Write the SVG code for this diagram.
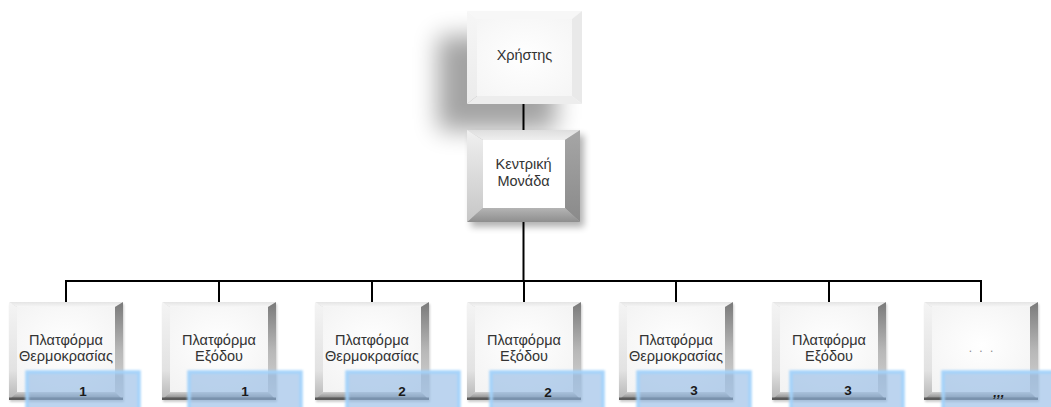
<svg xmlns="http://www.w3.org/2000/svg" xmlns:xlink="http://www.w3.org/1999/xlink" width="1051" height="407" viewBox="0 0 1051 407">
  <style>
    .lbl { font-family: "Liberation Sans", "DejaVu Sans", sans-serif; font-size: 14.5px; fill: #333333; text-anchor: middle; }
    .num { font-family: "Liberation Sans", "DejaVu Sans", sans-serif; font-size: 13.5px; font-weight: bold; fill: #1a1a1a; text-anchor: middle; }
    .dots { font-family: "Liberation Sans", "DejaVu Sans", sans-serif; font-size: 12px; fill: #8a8a8a; text-anchor: middle; letter-spacing: 2px; }
    .conn { stroke: #000000; stroke-width: 2; fill: none; }
    .blue { fill: #8fb8e4; fill-opacity: 0.6; stroke: #a2d2fb; stroke-width: 3.5; stroke-opacity: 0.95; }
  </style>
  <defs>
    <filter id="blurBig" x="-60%" y="-60%" width="220%" height="220%">
      <feGaussianBlur stdDeviation="12"/>
    </filter>
    <filter id="blurMid" x="-30%" y="-30%" width="160%" height="160%">
      <feGaussianBlur stdDeviation="3.5"/>
    </filter>
    <filter id="blurSmall" x="-20%" y="-20%" width="140%" height="140%">
      <feGaussianBlur stdDeviation="1.2"/>
    </filter>
    <linearGradient id="sTop" x1="0" y1="0" x2="0" y2="1">
      <stop offset="0" stop-color="#e4e4e4"/>
      <stop offset="1" stop-color="#f7f7f7"/>
    </linearGradient>
    <linearGradient id="sLeft" x1="0" y1="0" x2="0" y2="1">
      <stop offset="0" stop-color="#f4f4f4"/>
      <stop offset="0.7" stop-color="#e2e2e2"/>
      <stop offset="1" stop-color="#b5b5b5"/>
    </linearGradient>
    <linearGradient id="sRight" x1="0" y1="0" x2="0" y2="1">
      <stop offset="0" stop-color="#7a7a7a"/>
      <stop offset="0.5" stop-color="#b8b8b8"/>
      <stop offset="1" stop-color="#d8d8d8"/>
    </linearGradient>
    <linearGradient id="sBottom" x1="0" y1="0" x2="0" y2="1">
      <stop offset="0" stop-color="#d0d0d0"/>
      <stop offset="0.6" stop-color="#9a9a9a"/>
      <stop offset="1" stop-color="#555555"/>
    </linearGradient>
    <radialGradient id="face" cx="0.5" cy="0.45" r="0.7">
      <stop offset="0" stop-color="#ffffff"/>
      <stop offset="1" stop-color="#f3f3f3"/>
    </radialGradient>
    <linearGradient id="mTop" x1="0" y1="0" x2="0" y2="1">
      <stop offset="0" stop-color="#dedede"/>
      <stop offset="1" stop-color="#efefef"/>
    </linearGradient>
    <linearGradient id="mLeft" x1="0" y1="0" x2="0" y2="1">
      <stop offset="0" stop-color="#f0f0f0"/>
      <stop offset="1" stop-color="#c6c6c6"/>
    </linearGradient>
    <linearGradient id="mRight" x1="0" y1="0" x2="0" y2="1">
      <stop offset="0" stop-color="#a6a6a6"/>
      <stop offset="1" stop-color="#8a8a8a"/>
    </linearGradient>
    <linearGradient id="mBottom" x1="0" y1="0" x2="0" y2="1">
      <stop offset="0" stop-color="#b4b4b4"/>
      <stop offset="1" stop-color="#8e8e8e"/>
    </linearGradient>
    <linearGradient id="tSide" x1="0" y1="0" x2="0" y2="1">
      <stop offset="0" stop-color="#f6f6f6"/>
      <stop offset="1" stop-color="#ebebeb"/>
    </linearGradient>
    <radialGradient id="tFace" cx="0.5" cy="0.5" r="0.7">
      <stop offset="0" stop-color="#ffffff"/>
      <stop offset="1" stop-color="#f5f5f5"/>
    </radialGradient>

    <symbol id="smallBox" overflow="visible">
      <rect x="1" y="2" width="114" height="98" fill="#000" opacity="0.2" filter="url(#blurSmall)"/>
      <polygon points="0,0 114,0 106,5 8,5" fill="url(#sTop)"/>
      <polygon points="0,0 8,5 8,90 0,98" fill="url(#sLeft)"/>
      <polygon points="114,0 114,98 106,90 106,5" fill="url(#sRight)"/>
      <polygon points="0,98 8,90 106,90 114,98" fill="url(#sBottom)"/>
      <rect x="8" y="5" width="98" height="85" fill="url(#face)"/>
      <rect x="0" y="95.5" width="114" height="2.5" fill="#5a5a5a"/>
    </symbol>
  </defs>

  <rect x="0" y="0" width="1051" height="407" fill="#ffffff"/>

  <g id="connectors">
    <line class="conn" x1="523.5" y1="104" x2="523.5" y2="130"/>
    <line class="conn" x1="523.5" y1="222" x2="523.5" y2="281"/>
    <line class="conn" x1="65" y1="281" x2="982" y2="281"/>
    <line class="conn" x1="66" y1="280" x2="66" y2="303"/>
    <line class="conn" x1="219" y1="280" x2="219" y2="303"/>
    <line class="conn" x1="372" y1="280" x2="372" y2="303"/>
    <line class="conn" x1="524" y1="280" x2="524" y2="303"/>
    <line class="conn" x1="676" y1="280" x2="676" y2="303"/>
    <line class="conn" x1="829" y1="280" x2="829" y2="303"/>
    <line class="conn" x1="981" y1="280" x2="981" y2="303"/>
  </g>

  <g id="node-user">
    <rect x="438" y="36" width="118" height="94" fill="#000" opacity="0.36" filter="url(#blurBig)"/>
    <polygon points="467,11 582,11 572,19 477,19" fill="#f7f7f7"/>
    <polygon points="467,11 477,19 477,96 467,104" fill="url(#tSide)"/>
    <polygon points="582,11 582,104 572,96 572,19" fill="#e9e9e9"/>
    <polygon points="467,104 477,96 572,96 582,104" fill="#ededed"/>
    <rect x="477" y="19" width="95" height="77" fill="url(#tFace)"/>
    <text class="lbl" x="524.5" y="60">Χρήστης</text>
  </g>

  <g id="node-central">
    <rect x="471" y="135" width="113" height="92" fill="#000" opacity="0.3" filter="url(#blurMid)"/>
    <polygon points="467,130 580,130 565,140 483,140" fill="url(#mTop)"/>
    <polygon points="467,130 483,140 483,208 467,222" fill="url(#mLeft)"/>
    <polygon points="580,130 580,222 565,208 565,140" fill="url(#mRight)"/>
    <polygon points="467,222 483,208 565,208 580,222" fill="url(#mBottom)"/>
    <rect x="483" y="140" width="82" height="68" fill="#ffffff"/>
    <text class="lbl" x="523.5" y="169">Κεντρική</text>
    <text class="lbl" x="523.5" y="186">Μονάδα</text>
  </g>

  <g id="node-temp1">
    <use xlink:href="#smallBox" x="9" y="302"/>
    <text class="lbl" x="66" y="345">Πλατφόρμα</text>
    <text class="lbl" x="66" y="361">Θερμοκρασίας</text>
    <rect class="blue" x="27" y="372" width="112" height="42" filter="url(#blurSmall)"/>
    <text class="num" x="83" y="396">1</text>
  </g>

  <g id="node-exit1">
    <use xlink:href="#smallBox" x="162" y="302"/>
    <text class="lbl" x="219" y="345">Πλατφόρμα</text>
    <text class="lbl" x="219" y="361">Εξόδου</text>
    <rect class="blue" x="189" y="372" width="112" height="42" filter="url(#blurSmall)"/>
    <text class="num" x="245" y="396">1</text>
  </g>

  <g id="node-temp2">
    <use xlink:href="#smallBox" x="315" y="302"/>
    <text class="lbl" x="372" y="345">Πλατφόρμα</text>
    <text class="lbl" x="372" y="361">Θερμοκρασίας</text>
    <rect class="blue" x="347" y="372" width="112" height="42" filter="url(#blurSmall)"/>
    <text class="num" x="402" y="396">2</text>
  </g>

  <g id="node-exit2">
    <use xlink:href="#smallBox" x="467" y="302"/>
    <text class="lbl" x="524" y="345">Πλατφόρμα</text>
    <text class="lbl" x="524" y="361">Εξόδου</text>
    <rect class="blue" x="491" y="372" width="112" height="42" filter="url(#blurSmall)"/>
    <text class="num" x="548" y="397">2</text>
  </g>

  <g id="node-temp3">
    <use xlink:href="#smallBox" x="619" y="302"/>
    <text class="lbl" x="676" y="345">Πλατφόρμα</text>
    <text class="lbl" x="676" y="361">Θερμοκρασίας</text>
    <rect class="blue" x="638" y="372" width="112" height="42" filter="url(#blurSmall)"/>
    <text class="num" x="694" y="395">3</text>
  </g>

  <g id="node-exit3">
    <use xlink:href="#smallBox" x="772" y="302"/>
    <text class="lbl" x="829" y="345">Πλατφόρμα</text>
    <text class="lbl" x="829" y="361">Εξόδου</text>
    <rect class="blue" x="791" y="372" width="112" height="42" filter="url(#blurSmall)"/>
    <text class="num" x="848" y="395">3</text>
  </g>

  <g id="node-more">
    <use xlink:href="#smallBox" x="924" y="302"/>
    <text class="dots" x="982" y="352">. . .</text>
    <rect class="blue" x="943" y="372" width="112" height="42" filter="url(#blurSmall)"/>
    <text class="num" x="999" y="397" font-style="italic">,,,</text>
  </g>
</svg>
